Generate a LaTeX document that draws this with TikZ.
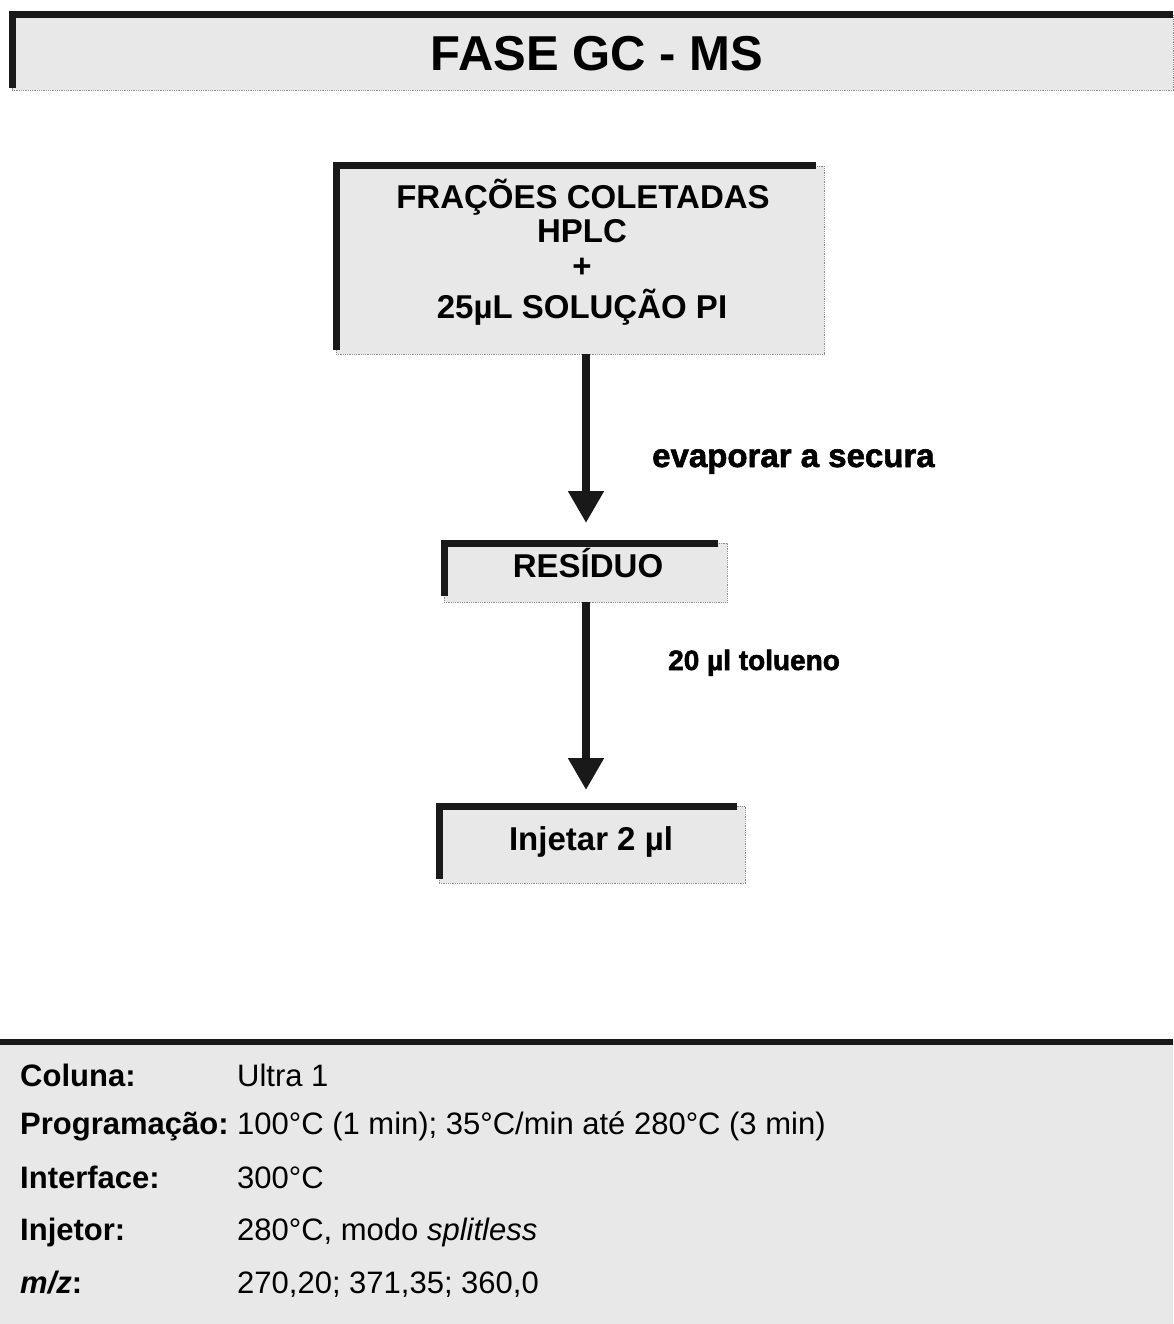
\documentclass[tikz,border=0pt]{standalone}
\usepackage{fontspec}
\setmainfont{Liberation Sans}
\newfontfamily\heavyfont[FakeBold=1.8]{Liberation Sans}
\usetikzlibrary{arrows.meta,calc}
\begin{document}
\begin{tikzpicture}[x=1pt,y=-1pt,
  gbox/.style={fill=black!9, draw=black!45, densely dotted, line width=0.8pt,
    inner sep=0pt, outer sep=0pt, anchor=north west},
  lline/.style={draw=black!90, line width=7pt, line join=miter},
  arr/.style={draw=black!90, line width=8pt, -{Triangle[length=32pt,width=34pt]}},
  boxtxt/.style={anchor=base, inner sep=0pt, font=\fontsize{33}{33}\selectfont\bfseries},
  lbltxt/.style={anchor=base west, inner sep=0pt, font=\fontsize{33}{33}\selectfont\heavyfont\bfseries},
  keytxt/.style={anchor=base west, inner sep=0pt, font=\fontsize{31}{31}\selectfont\bfseries},
  valtxt/.style={anchor=base west, inner sep=0pt, font=\fontsize{31}{31}\selectfont}
]
\useasboundingbox (0,0) rectangle (1173,1324);

% title band
\node[gbox, minimum width=1161pt, minimum height=75pt] (band) at (12,15) {};
\draw[lline] ([yshift=2pt]band.south west) |- (band.north east);
\node[anchor=base, inner sep=0pt, font=\fontsize{49}{49}\selectfont\bfseries] (title) at (597,71) {FASE GC - MS};

% box 1
\node[gbox, minimum width=488pt, minimum height=188pt] (box1) at (336,166) {};
\draw[lline] ([yshift=4pt]box1.south west) |- ([xshift=-8pt]box1.north east);
\node[boxtxt] (t1a) at (583,209) {FRAÇÕES COLETADAS};
\node[boxtxt] (t1b) at (582,243) {HPLC};
\node[boxtxt] (t1c) at (582,277) {+};
\node[boxtxt] (t1d) at (582,318) {25µL SOLUÇÃO PI};

% box 2
\node[gbox, minimum width=283pt, minimum height=59pt] (box2) at (444,543) {};
\draw[lline] ([yshift=6pt]box2.south west) |- ([xshift=-9pt]box2.north east);
\node[boxtxt] (t2) at (588,577) {RESÍDUO};

% box 3
\node[gbox, minimum width=306pt, minimum height=77pt] (box3) at (439,806) {};
\draw[lline] ([yshift=4pt]box3.south west) |- ([xshift=-8pt]box3.north east);
\node[boxtxt] (t3) at (591,850) {Injetar 2 µl};

% arrows
\coordinate (ax) at (586,0);
\draw[arr, shorten >=20pt] (box1.south -| ax) -- (box2.north -| ax);
\draw[arr, shorten >=16pt] (box2.south -| ax) -- (box3.north -| ax);
\node[lbltxt] (l1) at (652,467) {evaporar a secura};
\node[lbltxt, font=\fontsize{28}{28}\selectfont\heavyfont\bfseries] (l2) at (668,670) {20 µl tolueno};

% parameters panel
\node[gbox, draw=none, minimum width=1173pt, minimum height=282pt] (params) at (0,1042) {};
\draw[lline, line width=6pt] (params.north west) -- (params.north east);
\node[keytxt] (k1) at (20,1086) {Coluna:};
\node[valtxt] (v1) at (237,1086) {Ultra 1};
\node[keytxt] (k2) at (20,1134) {Programação:};
\node[valtxt] (v2) at (237,1134) {100°C (1 min); 35°C/min até 280°C (3 min)};
\node[keytxt] (k3) at (20,1188) {Interface:};
\node[valtxt] (v3) at (237,1188) {300°C};
\node[keytxt] (k4) at (20,1240) {Injetor:};
\node[valtxt] (v4) at (237,1240) {280°C, modo \textit{splitless}};
\node[keytxt] (k5) at (20,1293) {\textit{m/z}:};
\node[valtxt] (v5) at (237,1293) {270,20; 371,35; 360,0};
\end{tikzpicture}
\end{document}
